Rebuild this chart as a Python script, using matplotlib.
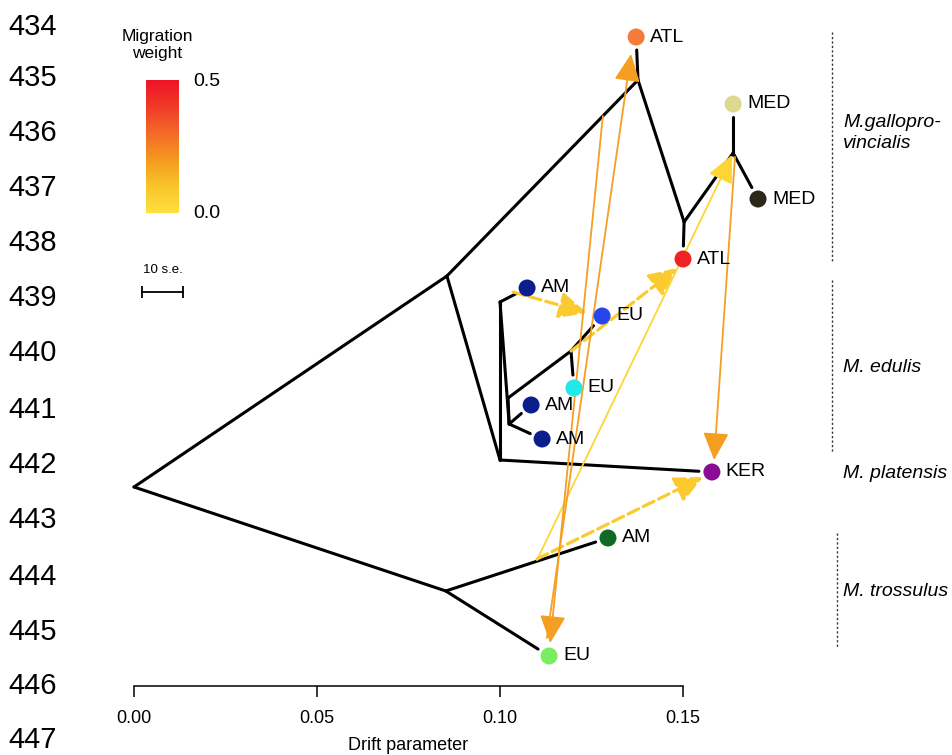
import numpy as np
import matplotlib
matplotlib.use("Agg")
import matplotlib.pyplot as plt
from matplotlib.patches import FancyArrowPatch, ArrowStyle
from matplotlib.colors import LinearSegmentedColormap

plt.rcParams['font.family'] = ['Liberation Sans', 'DejaVu Sans']

# ---------------- data ----------------
# internal nodes of the tree: drift (x) and vertical layout position (y, top = small)
node_names = ['R', 'A', 'B', 'ATLn', 'G', 'MEDn', 'P', 'Q', 'S', 'T', 'U']
node_drift = [0.0, 0.0855, 0.0852, 0.1377, 0.1503, 0.1637, 0.1000, 0.1000, 0.1025, 0.1022, 0.1194]
node_ypos = [487, 276, 591, 80, 222, 153, 460, 302, 424, 398, 351]

# leaves (populations)
leaf_names = ['ATL_o', 'ATL_r', 'MED_l', 'MED_d', 'KER', 'AM1', 'EU_b', 'EU_c', 'AM2', 'AM3', 'AM_g', 'EU_g']
leaf_labels = ['ATL', 'ATL', 'MED', 'MED', 'KER', 'AM', 'EU', 'EU', 'AM', 'AM', 'AM', 'EU']
leaf_drift = [0.1372, 0.1500, 0.1637, 0.1705, 0.1579, 0.1074, 0.1279, 0.1202, 0.1085, 0.1115, 0.1295, 0.1134]
leaf_ypos = [37, 259, 104, 199, 472, 288, 316, 388, 405, 439, 538, 656]
leaf_colors = ['#F47B3A', '#EE2424', '#DCD98F', '#2B2818', '#8A0C96', '#0B1F8C',
               '#2645EA', '#22E8E8', '#0B1F8C', '#0B1F8C', '#0E6A25', '#77EE5E']

# tree edges (parent -> child)
edge_parent = ['R', 'R', 'A', 'ATLn', 'ATLn', 'G', 'G', 'MEDn', 'MEDn', 'A', 'P', 'P',
               'Q', 'Q', 'S', 'T', 'U', 'U', 'S', 'S', 'B', 'B']
edge_child = ['A', 'B', 'ATLn', 'ATL_o', 'G', 'ATL_r', 'MEDn', 'MED_l', 'MED_d', 'P', 'KER', 'Q',
              'AM1', 'S', 'T', 'U', 'EU_b', 'EU_c', 'AM2', 'AM3', 'AM_g', 'EU_g']

# migration edges: source point, target point (drift, y), weight, dashed
mig_src_drift = [0.1036, 0.1194, 0.1101, 0.1101, 0.1128, 0.1281, 0.1642]
mig_src_ypos = [292, 351, 560, 559, 638, 116, 157]
mig_tgt_drift = [0.1238, 0.1484, 0.1634, 0.1555, 0.1358, 0.1137, 0.1585]
mig_tgt_ypos = [313, 268, 155, 477, 54, 643, 460]
mig_weight = [0.08, 0.08, 0.04, 0.08, 0.19, 0.19, 0.19]
mig_dashed = [True, True, False, True, False, False, False]

# group labels on the right
group_labels = ['M.gallopro-\nvincialis', 'M. edulis', 'M. platensis', 'M. trossulus']
group_ypos = [133, 368, 473, 592]
bracket_drift = [0.1907, 0.1907, 0.1921]
bracket_top = [32, 280, 533]
bracket_bottom = [262, 453, 648]

x_ticks = [0.00, 0.05, 0.10, 0.15]
line_numbers = list(range(434, 448))
line_number_ypos = [27, 78, 133, 188, 243, 298, 353, 410, 465, 520, 577, 632, 686, 740]

max_weight = 0.5
scale_bar_len = 0.0112  # 10 s.e.

# ---------------- figure ----------------
W, H = 952, 755
fig = plt.figure(figsize=(W / 100, H / 100), dpi=100)
ax = fig.add_axes([0, 0, 1, 1])
px_per_unit = 3660.0
x0_px = 134.0
ax.set_xlim(-x0_px / px_per_unit, (W - x0_px) / px_per_unit)
ax.set_ylim(H, 0)
for s in ['left', 'right', 'top']:
    ax.spines[s].set_visible(False)
ax.spines['bottom'].set_position(('data', 686))
ax.spines['bottom'].set_bounds(0, 0.15)
ax.spines['bottom'].set_linewidth(1.1)
ax.set_yticks([])
ax.set_xticks(x_ticks)
ax.set_xticklabels([f'{v:.2f}' for v in x_ticks], fontsize=13)
ax.tick_params(axis='x', direction='out', length=8, width=1.1, pad=9)
ax.text(0.075, 745, 'Drift parameter', ha='center', va='center', fontsize=13)

cmap = LinearSegmentedColormap.from_list(
    'mig', ['#FFE23E', '#F9C42A', '#F59A20', '#F46A28', '#F03A28', '#EE1428'])

pos = {}
for n, x, y in zip(node_names, node_drift, node_ypos):
    pos[n] = (x, y)
for n, x, y in zip(leaf_names, leaf_drift, leaf_ypos):
    pos[n] = (x, y)
leafset = set(leaf_names)


def shorten(p, c, gap):
    P = ax.transData.transform(p)
    C = ax.transData.transform(c)
    d = C - P
    L = np.hypot(*d)
    E = C - d / L * gap
    return ax.transData.inverted().transform(E)


# tree edges
for pa, ch in zip(edge_parent, edge_child):
    p = pos[pa]
    c = pos[ch]
    if ch in leafset:
        c = shorten(p, c, 13)
    ax.plot([p[0], c[0]], [p[1], c[1]], color='black', lw=2.2,
            solid_capstyle='round', zorder=2)

# migration arrows
for sx, sy, tx, ty, w, dashed in zip(mig_src_drift, mig_src_ypos, mig_tgt_drift,
                                     mig_tgt_ypos, mig_weight, mig_dashed):
    col = cmap(w / max_weight)
    arr = FancyArrowPatch((sx, sy), (tx, ty),
                          arrowstyle=ArrowStyle('-|>', head_length=1.7, head_width=0.8),
                          mutation_scale=10, color=col,
                          lw=2.3 if dashed else 1.3,
                          linestyle='--' if dashed else '-',
                          shrinkA=0, shrinkB=0, zorder=3)
    ax.add_patch(arr)

# leaves
ax.scatter(leaf_drift, leaf_ypos, s=150, c=leaf_colors, edgecolors='none', zorder=4)
for x, y, lab in zip(leaf_drift, leaf_ypos, leaf_labels):
    ax.annotate(lab, (x, y), xytext=(10, 0), textcoords='offset points',
                ha='left', va='center', fontsize=14, zorder=5)

# group brackets and labels
for bx, bt, bb in zip(bracket_drift, bracket_top, bracket_bottom):
    ax.plot([bx, bx], [bt, bb], color='#333333', lw=1.0, linestyle=(0, (1.6, 1.6)))
for lab, y in zip(group_labels, group_ypos):
    ax.text(0.1937, y, lab, ha='left', va='center', fontsize=14, style='italic',
            linespacing=1.3)

# line numbers at left margin
for n, y in zip(line_numbers, line_number_ypos):
    ax.text(8 / W, 1 - y / H, str(n), transform=fig.transFigure, ha='left', va='center',
            fontsize=21)

# scale bar
sb_x0 = (142 - x0_px) / px_per_unit
ax.plot([sb_x0, sb_x0 + scale_bar_len], [292, 292], color='black', lw=1.3)
ax.plot([sb_x0, sb_x0 + scale_bar_len], [292, 292], color='black', lw=0,
        marker='|', markersize=8, markeredgewidth=1.3)
ax.text(sb_x0 + scale_bar_len / 2, 270, '10 s.e.', ha='center', va='center', fontsize=9.5)

# colour legend
cax = fig.add_axes([146 / W, 1 - 213 / H, 33 / W, 133 / H])
grad = np.linspace(max_weight, 0, 256).reshape(-1, 1)
cax.imshow(grad, aspect='auto', cmap=cmap, vmin=0, vmax=max_weight)
cax.set_axis_off()
fig.text(157 / W, 1 - 45 / H, 'Migration\nweight', ha='center', va='center', fontsize=12.5,
         linespacing=1.15)
fig.text(193 / W, 1 - 82 / H, f'{max_weight:.1f}', ha='left', va='center', fontsize=14)
fig.text(193 / W, 1 - 213 / H, f'{0:.1f}', ha='left', va='center', fontsize=14)

fig.savefig('out.png', dpi=100)
